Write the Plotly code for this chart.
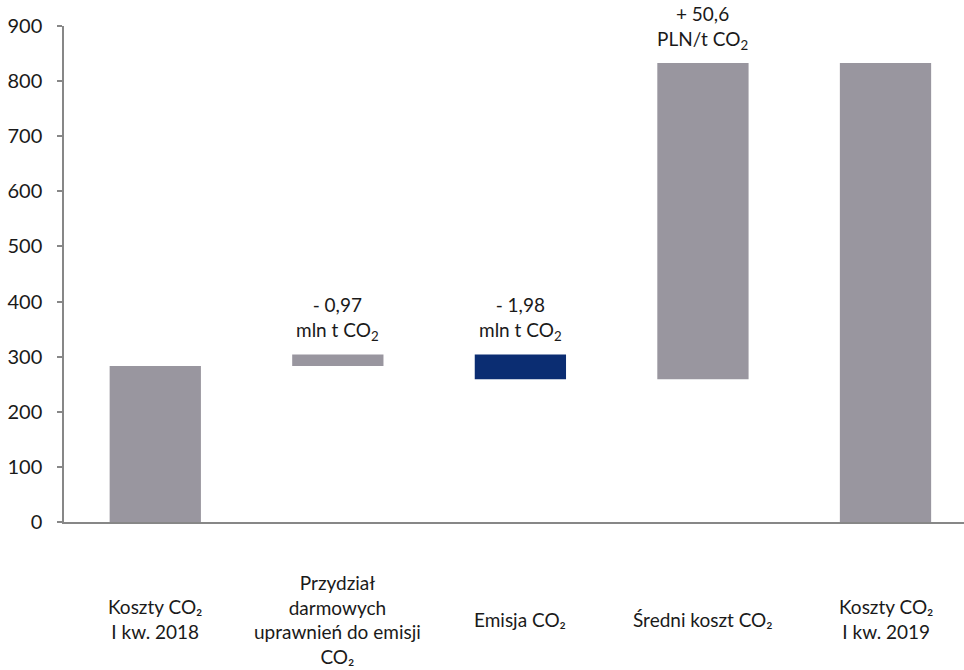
import plotly.graph_objects as go

# Waterfall of CO2 cost (mln PLN): Q1 2018 -> Q1 2019
categories = [
    "Koszty CO₂<br>I kw. 2018",
    "Przydział<br>darmowych<br>uprawnień do emisji<br>CO₂",
    "Emisja CO₂",
    "Średni koszt CO₂",
    "Koszty CO₂<br>I kw. 2019",
]
start_value = 283
changes = [21, -45, 574]
end_value = 833
change_labels = [
    "- 0,97<br>mln t CO<sub>2</sub>",
    "- 1,98<br>mln t CO<sub>2</sub>",
    "+ 50,6<br>PLN/t CO<sub>2</sub>",
]
change_colors = ["#99969f", "#0b2d72", "#99969f"]
total_color = "#99969f"

# floating bars: base and height for each step
bases = [0]
heights = [start_value]
level = start_value
for c in changes:
    lo = min(level, level + c)
    bases.append(lo)
    heights.append(abs(c))
    level += c
bases.append(0)
heights.append(end_value)
colors = [total_color] + change_colors + [total_color]

font_family = "Lato, 'Open Sans', sans-serif"
text_color = "#1a1a1a"

fig = go.Figure(
    go.Bar(
        x=categories,
        y=heights,
        base=bases,
        marker=dict(color=colors, line=dict(width=0)),
        width=0.5,
        hoverinfo="skip",
    )
)

annotations = []
# change labels above the floating bars
for i, lbl in enumerate(change_labels, start=1):
    annotations.append(dict(
        x=categories[i], y=bases[i] + heights[i], xref="x", yref="y",
        text=lbl, showarrow=False, yanchor="bottom", yshift=8,
        font=dict(family=font_family, size=19, color=text_color),
    ))
# category labels under the axis
for cat in categories:
    annotations.append(dict(
        x=cat, y=-0.196, xref="x", yref="paper",
        text=cat, showarrow=False, yanchor="middle",
        font=dict(family=font_family, size=19, color=text_color),
    ))

fig.update_layout(
    width=964, height=670,
    margin=dict(l=64, r=0, t=26, b=148),
    plot_bgcolor="white", paper_bgcolor="white",
    showlegend=False,
    bargap=0.5,
    annotations=annotations,
    xaxis=dict(
        range=[-0.5, 4.43], showticklabels=False, ticks="",
        showgrid=False, zeroline=False,
        showline=True, linecolor="#878787", linewidth=2,
    ),
    yaxis=dict(
        range=[0, 900], dtick=100, tick0=0,
        showgrid=False, zeroline=False,
        showline=True, linecolor="#878787", linewidth=1.5,
        ticks="outside", ticklen=5, tickcolor="#878787", tickwidth=1.5,
        ticklabelstandoff=11,
        tickfont=dict(family=font_family, size=20, color=text_color),
    ),
)

fig.write_html("out.html")
